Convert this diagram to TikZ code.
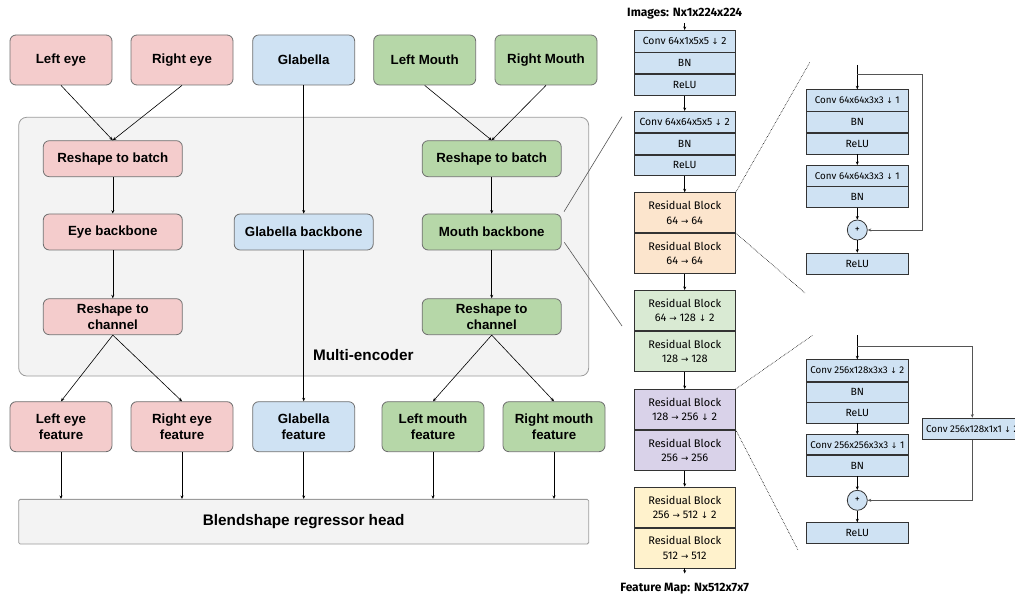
\documentclass[tikz,border=0pt]{standalone}
\usepackage{fontspec}
\setmainfont{Liberation Sans}
\newfontfamily\pf{Fira Sans}
\newfontfamily\arf[Scale=0.8]{DejaVu Sans}
\usetikzlibrary{arrows.meta}
\newcommand\darr{{\arf ↓}}
\newcommand\rarr{{\arf →}}
\definecolor{lred}{HTML}{F4CCCC}
\definecolor{lblue}{HTML}{CFE2F3}
\definecolor{lgreen}{HTML}{B6D7A8}
\definecolor{cont}{HTML}{F3F3F3}
\definecolor{lborder}{HTML}{707070}
\definecolor{rorange}{HTML}{FCE5CD}
\definecolor{rgreen}{HTML}{D9EAD3}
\definecolor{rpurple}{HTML}{D9D2E9}
\definecolor{ryellow}{HTML}{FFF2CC}
\definecolor{cborder}{HTML}{333333}
\definecolor{zline}{HTML}{555555}
\begin{document}
\begin{tikzpicture}[x=1pt,y=-1pt,
  lb/.style={draw=lborder, rounded corners=6pt, line width=0.8pt, font=\bfseries\fontsize{13.3}{15.7}\selectfont, align=center, minimum width=102pt, minimum height=50pt, inner sep=0pt},
  wb/.style={lb, minimum width=139pt, minimum height=36pt},
  cell/.style={draw=cborder, line width=0.8pt, minimum width=101.3pt, inner sep=0pt, font=\pf\fontsize{10.4}{12}\selectfont, align=center, anchor=north, fill=lblue},
  dcell/.style={cell, font=\pf\fontsize{9.8}{12}\selectfont},
  rb/.style={cell, font=\pf\fontsize{11}{14.3}\selectfont, minimum height=40pt},
  arr/.style={-{Stealth[length=3.5pt,width=3pt]}, line width=0.6pt, black},
  garr/.style={-{Stealth[length=3.5pt,width=3pt]}, line width=0.8pt, zline},
  zoomdot/.style={densely dotted, line width=0.6pt, black},
  zoomsolid/.style={line width=0.6pt, zline},
  plus/.style={circle, draw=cborder, line width=0.8pt, fill=lblue, minimum size=20pt, inner sep=0pt, font=\pf\fontsize{10}{10}\selectfont},
  ttl/.style={font=\pf\bfseries\fontsize{12}{13}\selectfont, inner sep=0pt}
]
\clip (0,0) rectangle (1015,596);
\fill[white] (0,0) rectangle (1015,596);

% ---------- left part ----------
\draw[draw=lborder!70, fill=cont, rounded corners=8pt, line width=0.8pt] (18.7,117.3) rectangle (588.7,376);
\node[font=\bfseries\fontsize{15.3}{17}\selectfont] (menc) at (363.3,355) {Multi-encoder};

\node[lb, fill=lred] (le) at (61,60) {Left eye};
\node[lb, fill=lred] (re) at (182,60) {Right eye};
\node[lb, fill=lblue] (gl) at (303.7,60) {Glabella};
\node[lb, fill=lgreen] (lm) at (424.7,60) {Left Mouth};
\node[lb, fill=lgreen] (rm) at (546,60) {Right Mouth};

\node[wb, fill=lred] (erb) at (112.8,158.7) {Reshape to batch};
\node[wb, fill=lgreen] (mrb) at (491.7,158.7) {Reshape to batch};
\node[wb, fill=lred] (eb) at (112.8,232) {Eye backbone};
\node[wb, fill=lblue] (gb) at (303.7,232) {Glabella backbone};
\node[wb, fill=lgreen] (mb) at (491.7,232) {Mouth backbone};
\node[wb, fill=lred] (erc) at (112.8,316.7) {Reshape to\\channel};
\node[wb, fill=lgreen] (mrc) at (491.7,316.7) {Reshape to\\channel};

\node[lb, fill=lred] (lef) at (61,426.7) {Left eye\\feature};
\node[lb, fill=lred] (ref) at (182,426.7) {Right eye\\feature};
\node[lb, fill=lblue] (gf) at (303.7,426.7) {Glabella\\feature};
\node[lb, fill=lgreen] (lmf) at (433,426.7) {Left mouth\\feature};
\node[lb, fill=lgreen] (rmf) at (554,426.7) {Right mouth\\feature};

\node[draw=lborder!70, fill=cont, line width=0.8pt, rounded corners=1.5pt, minimum width=570pt, minimum height=44.7pt, inner sep=0pt, font=\bfseries\fontsize{15.3}{17}\selectfont] (head) at (303.7,521.7) {Blendshape regressor head};

\draw[arr] (le.south) -- (erb.north);
\draw[arr] (re.south) -- (erb.north);
\draw[arr] (lm.south) -- (mrb.north);
\draw[arr] (rm.south) -- (mrb.north);
\draw[arr] (erb.south) -- (eb.north);
\draw[arr] (mrb.south) -- (mb.north);
\draw[arr] (eb.south) -- (erc.north);
\draw[arr] (mb.south) -- (mrc.north);
\draw[arr] (gl.south) -- (gb.north);
\draw[arr] (gb.south) -- (gf.north);
\draw[arr] (erc.south) -- (lef.north);
\draw[arr] (erc.south) -- (ref.north);
\draw[arr] (mrc.south) -- (lmf.north);
\draw[arr] (mrc.south) -- (rmf.north);
\foreach \f in {lef,ref,gf,lmf,rmf} \draw[arr] (\f.south) -- (\f.south |- head.north);

% ---------- main network column ----------
\node[ttl] (img) at (684.7,13.3) {Images: Nx1x224x224};
\coordinate (imgbot) at (684.7,23);
\node[cell, minimum height=21.7pt] (c1) at (684.7,30) {Conv 64x1x5x5 \darr\ 2};
\node[cell, minimum height=21pt] (b1) at (c1.south) {BN};
\node[cell, minimum height=20.6pt] (r1) at (b1.south) {ReLU};
\node[cell, minimum height=21.3pt] (c2) at (684.7,111) {Conv 64x64x5x5 \darr\ 2};
\node[cell, minimum height=20.7pt] (b2) at (c2.south) {BN};
\node[cell, minimum height=20.3pt] (r2) at (b2.south) {ReLU};
\node[rb, fill=rorange] (o1) at (684.7,192.3) {Residual Block\\64 \rarr\ 64};
\node[rb, fill=rorange] (o2) at (o1.south) {Residual Block\\64 \rarr\ 64};
\node[rb, fill=rgreen] (g1) at (684.7,290) {Residual Block\\64 \rarr\ 128 \darr\ 2};
\node[rb, fill=rgreen] (g2) at (g1.south) {Residual Block\\128 \rarr\ 128};
\node[rb, fill=rpurple] (p1) at (684.7,389) {Residual Block\\128 \rarr\ 256 \darr\ 2};
\node[rb, fill=rpurple] (p2) at (p1.south) {Residual Block\\256 \rarr\ 256};
\node[rb, fill=ryellow] (y1) at (684.7,486.7) {Residual Block\\256 \rarr\ 512 \darr\ 2};
\node[rb, fill=ryellow] (y2) at (y1.south) {Residual Block\\512 \rarr\ 512};
\coordinate (fmtop) at (684.7,573.5);
\node[ttl] (fm) at (684.7,588.3) {Feature Map: Nx512x7x7};

\draw[arr] (imgbot) -- (c1.north);
\draw[arr] (r1.south) -- (c2.north);
\draw[arr] (r2.south) -- (o1.north);
\draw[arr] (o2.south) -- (g1.north);
\draw[arr] (g2.south) -- (p1.north);
\draw[arr] (p2.south) -- (y1.north);
\draw[arr] (y2.south) -- (fmtop);

% zoom lines from mouth backbone
\coordinate (mz1) at (564,211.7);
\coordinate (mz1e) at (622,116.7);
\coordinate (mz2) at (564.3,242.3);
\coordinate (mz2e) at (622,326);
\draw[zoomsolid] (mz1) -- (mz1e);
\draw[zoomsolid] (mz2) -- (mz2e);

% ---------- detail 1: residual block 64->64 ----------
\coordinate (d1top) at (857.3,65);
\coordinate (d1br) at (857.3,74.7);
\coordinate (d1r) at (922.3,74.7);
\node[dcell, minimum height=21.4pt] (dc1) at (857.3,89.3) {Conv 64x64x3x3 \darr\ 1};
\node[cell, minimum height=20.3pt] (db1) at (dc1.south) {BN};
\node[cell, minimum height=21pt] (dr1) at (db1.south) {ReLU};
\node[dcell, minimum height=20.7pt] (dc2) at (857.3,165) {Conv 64x64x3x3 \darr\ 1};
\node[cell, minimum height=20.6pt] (db2) at (dc2.south) {BN};
\node[plus] (pl1) at (857.3,230) {+};
\node[cell, minimum height=21.3pt] (dr3) at (857.3,252.7) {ReLU};
\draw[arr] (d1top) -- (dc1.north);
\draw[arr] (dr1.south) -- (dc2.north);
\draw[arr] (db2.south) -- (pl1.north);
\draw[arr] (pl1.south) -- (dr3.north);
\draw[garr] (d1br) -- (d1r) -- (d1r |- pl1) -- (pl1.east);

% ---------- detail 2: residual block 128->256 ----------
\coordinate (d2top) at (857.3,335);
\coordinate (d2br) at (857.3,346);
\coordinate (d2r) at (972.3,346);
\node[dcell, minimum height=21.4pt] (ec1) at (857.3,359.3) {Conv 256x128x3x3 \darr\ 2};
\node[cell, minimum height=20pt] (eb1) at (ec1.south) {BN};
\node[cell, minimum height=20.3pt] (er1) at (eb1.south) {ReLU};
\node[dcell, minimum height=20pt] (ec2) at (857.3,434.3) {Conv 256x256x3x3 \darr\ 1};
\node[cell, minimum height=20.4pt] (eb2) at (ec2.south) {BN};
\node[plus] (pl2) at (857.3,500.3) {+};
\node[cell, minimum height=21pt] (er3) at (857.3,522.3) {ReLU};
\node[dcell, minimum width=100pt, minimum height=21.3pt] (sc) at (972.3,417.7) {Conv 256x128x1x1 \darr\ 2};
\draw[arr] (d2top) -- (ec1.north);
\draw[arr] (er1.south) -- (ec2.north);
\draw[arr] (eb2.south) -- (pl2.north);
\draw[arr] (pl2.south) -- (er3.north);
\draw[garr] (d2br) -- (d2r) -- (sc.north);
\draw[garr] (sc.south) -- (sc.south |- pl2) -- (pl2.east);

% ---------- dotted zoom lines ----------
\coordinate (z1a) at (810,62);
\coordinate (z1b) at (805,293);
\coordinate (z2a) at (813,335);
\coordinate (z2b) at (798,550);
\draw[zoomdot] (o1.north east) -- (z1a);
\draw[zoomdot] (o1.south east) -- (z1b);
\draw[zoomdot] (p1.north east) -- (z2a);
\draw[zoomdot] (p1.south east) -- (z2b);
\end{tikzpicture}
\end{document}
